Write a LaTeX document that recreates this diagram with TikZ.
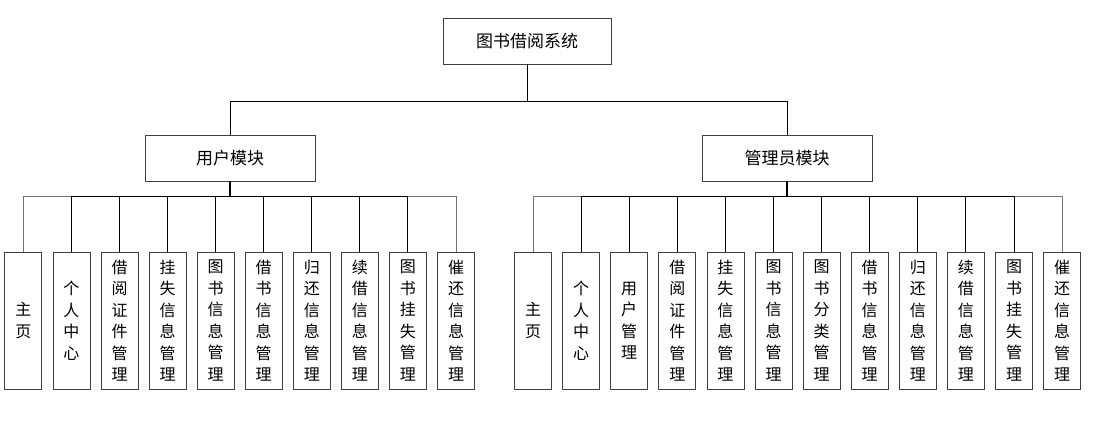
\documentclass[tikz,border=0pt]{standalone}
\usepackage{fontspec}
\newfontfamily\cjk{Noto Sans CJK SC}
\begin{document}
\begin{tikzpicture}[x=1pt,y=-1pt,
  box/.style={draw=black!75, line width=0.8pt, fill=white, inner sep=0pt, align=center},
  topbox/.style={box, minimum width=168pt, minimum height=46pt, font=\cjk\fontsize{17}{20}\selectfont},
  modbox/.style={box, minimum width=170pt, minimum height=46pt, font=\cjk\fontsize{17}{20}\selectfont},
  leaf/.style={box, minimum width=37pt, minimum height=137pt, font=\cjk\fontsize{16}{21.5}\selectfont},
  conn/.style={line width=0.9pt, black},
  connlight/.style={line width=0.7pt, black!55},
  trunk/.style={line width=1.8pt, black}]
\useasboundingbox (0,0) rectangle (1096,427);

\node[topbox] (root) at (527,41) {图书借阅系统};
\node[modbox] (user) at (230,158) {用户模块};
\node[modbox] (admin) at (787,158) {管理员模块};

% user leaves
\node[leaf] (u1) at (23.3,320.7) {主\\页};
\node[leaf] (u2) at (71.4,320.7) {个\\人\\中\\心};
\node[leaf] (u3) at (119.5,320.7) {借\\阅\\证\\件\\管\\理};
\node[leaf] (u4) at (167.5,320.7) {挂\\失\\信\\息\\管\\理};
\node[leaf] (u5) at (215.6,320.7) {图\\书\\信\\息\\管\\理};
\node[leaf] (u6) at (263.7,320.7) {借\\书\\信\\息\\管\\理};
\node[leaf] (u7) at (311.8,320.7) {归\\还\\信\\息\\管\\理};
\node[leaf] (u8) at (359.9,320.7) {续\\借\\信\\息\\管\\理};
\node[leaf] (u9) at (407.9,320.7) {图\\书\\挂\\失\\管\\理};
\node[leaf] (u10) at (456.0,320.7) {催\\还\\信\\息\\管\\理};

% admin leaves
\node[leaf] (a1) at (533.0,320.7) {主\\页};
\node[leaf] (a2) at (581.1,320.7) {个\\人\\中\\心};
\node[leaf] (a3) at (629.2,320.7) {用\\户\\管\\理};
\node[leaf] (a4) at (677.3,320.7) {借\\阅\\证\\件\\管\\理};
\node[leaf] (a5) at (725.4,320.7) {挂\\失\\信\\息\\管\\理};
\node[leaf] (a6) at (773.5,320.7) {图\\书\\信\\息\\管\\理};
\node[leaf] (a7) at (821.6,320.7) {图\\书\\分\\类\\管\\理};
\node[leaf] (a8) at (869.7,320.7) {借\\书\\信\\息\\管\\理};
\node[leaf] (a9) at (917.8,320.7) {归\\还\\信\\息\\管\\理};
\node[leaf] (a10) at (965.9,320.7) {续\\借\\信\\息\\管\\理};
\node[leaf] (a11) at (1014.0,320.7) {图\\书\\挂\\失\\管\\理};
\node[leaf] (a12) at (1062.1,320.7) {催\\还\\信\\息\\管\\理};

% top level connectors
\draw[line width=0.8pt] (root.south) -- ++(0,37.5) -| (user.north);
\draw[line width=0.8pt] (root.south) -- ++(0,37.5) -| (admin.north);

% user connectors
\foreach \n in {u1,u10} \draw[connlight] (user.south) -- ++(0,15) -| (\n.north);
\foreach \n in {u2,u3,u4,u5,u6,u7,u8,u9} \draw[conn] (user.south) -- ++(0,15) -| (\n.north);
\draw[trunk] (user.south) -- ++(0,15);

% admin connectors
\foreach \n in {a1,a12} \draw[connlight] (admin.south) -- ++(0,15) -| (\n.north);
\foreach \n in {a2,a3,a4,a5,a6,a7,a8,a9,a10,a11} \draw[conn] (admin.south) -- ++(0,15) -| (\n.north);
\draw[trunk] (admin.south) -- ++(0,15);
\end{tikzpicture}
\end{document}
